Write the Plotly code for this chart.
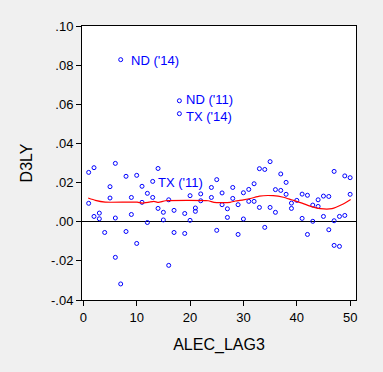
import plotly.graph_objects as go

# Scatter data (ALEC_LAG3, D3LY)
alec_lag3 = [1, 1, 2, 2, 3, 3, 4, 5, 5, 6, 6, 6, 7, 7, 8, 8, 9, 9, 10, 10,
             11, 11, 12, 12, 13, 13, 14, 14, 15, 15, 16, 16, 17, 17, 18, 18,
             19, 19, 20, 20, 21, 21, 22, 22, 24, 24, 25, 25, 26, 26, 27, 27,
             28, 28, 29, 29, 30, 30, 31, 31, 32, 32, 33, 33, 34, 34, 35, 35,
             36, 36, 37, 37, 38, 38, 39, 39, 40, 41, 41, 42, 42, 43, 43, 44, 44,
             45, 45, 46, 46, 47, 47, 47, 48, 48, 49, 49, 50, 50]
d3ly = [0.0252, 0.0094, 0.0276, 0.0027, 0.0044, 0.0015, -0.0055, 0.0179, 0.0121,
        0.0298, 0.0019, -0.0182, 0.0828, -0.0318, 0.0232, -0.0050, 0.0124, 0.0037,
        0.0237, -0.0111, 0.0181, 0.0099, 0.0145, -0.0004, 0.0206, 0.0124, 0.0272,
        0.0068, 0.0048, 0.0009, 0.0112, -0.0223, 0.0058, -0.0055, 0.0618, 0.0552,
        0.0042, -0.0060, 0.0133, 0.0007, 0.0070, 0.0053, 0.0142, 0.0107, 0.0175,
        0.0124, 0.0215, -0.0044, 0.0147, 0.0087, 0.0066, 0.0022, 0.0175, 0.0119,
        0.0087, -0.0065, 0.0148, 0.0014, 0.0165, 0.0104, 0.0194, 0.0104, 0.0271,
        0.0073, 0.0267, -0.0029, 0.0307, 0.0073, 0.0164, 0.0048, 0.0244, 0.0160,
        0.0201, 0.0140, 0.0095, 0.0068, 0.0109, 0.0141, 0.0017, 0.0135, -0.0065,
        0.0085, 0.0002, 0.0112, 0.0078, 0.0131, 0.0027, 0.0129, -0.0041, 0.0257,
        0.0005, -0.0121, 0.0027, -0.0126, 0.0234, 0.0032, 0.0225, 0.0140]

# Smooth fit line
fit_x = [0.9, 2.25, 4.1, 10.1, 11.0, 12.3, 13.2, 14.1, 15.4, 23.4, 24.5, 27.5,
         28.5, 30, 31.5, 33, 35.6, 37.5, 39, 41, 42.5, 44.4, 46.6, 48.5, 50.1]
fit_y = [0.0121, 0.0109, 0.0100, 0.0100, 0.0095, 0.0100, 0.0104, 0.0099, 0.0107,
         0.0107, 0.0099, 0.0099, 0.0106, 0.0112, 0.0120, 0.0131, 0.0133, 0.0125,
         0.0112, 0.0095, 0.0080, 0.0067, 0.0067, 0.0088, 0.0114]

# Point labels
label_text = ["ND ('14)", "ND ('11)", "TX ('14)", "TX ('11)"]
label_x = [7, 18, 18, 13]
label_y = [0.0828, 0.0618, 0.0552, 0.0206]
label_xshift = [8, 5, 5, 3]
label_yshift = [-1, 1, -3, -1]

y_tickvals = [0.10, 0.08, 0.06, 0.04, 0.02, 0.00, -0.02, -0.04]
y_ticktext = [".10", ".08", ".06", ".04", ".02", ".00", "-.02", "-.04"]
x_tickvals = [0, 10, 20, 30, 40, 50]

fig = go.Figure()
fig.add_trace(go.Scatter(
    x=alec_lag3, y=d3ly, mode="markers",
    marker=dict(symbol="circle-open", size=4, color="#0000FF", line=dict(width=1)),
    showlegend=False, hoverinfo="skip"))
fig.add_trace(go.Scatter(
    x=fit_x, y=fit_y, mode="lines",
    line=dict(color="#FF0000", width=1.2, shape="spline", smoothing=0.5),
    showlegend=False, hoverinfo="skip"))

for t, x, y, xs, ys in zip(label_text, label_x, label_y, label_xshift, label_yshift):
    fig.add_annotation(x=x, y=y, text=t, showarrow=False, xanchor="left",
                       yanchor="middle", xshift=xs, yshift=ys,
                       font=dict(family="Liberation Sans, Arial", size=13, color="#0000FF"))

fig.update_layout(
    width=383, height=372,
    margin=dict(l=82, r=27, t=26, b=72, autoexpand=False),
    paper_bgcolor="#F0F0F0", plot_bgcolor="#FFFFFF",
    font=dict(family="Liberation Sans, Arial", size=13, color="#000000"),
    xaxis=dict(range=[-0.25, 51.1], tickvals=x_tickvals, showgrid=False, zeroline=False,
               showline=True, linecolor="#000000", linewidth=1, mirror=True,
               ticks="outside", ticklen=5, tickcolor="#000000", automargin=False,
               title=dict(text="ALEC_LAG3", standoff=15)),
    yaxis=dict(range=[-0.04, 0.10], tickvals=y_tickvals, ticktext=y_ticktext,
               showgrid=False, zeroline=True, zerolinecolor="#000000", zerolinewidth=1,
               showline=True, linecolor="#000000", linewidth=1, mirror=True,
               ticks="outside", ticklen=5, tickcolor="#000000", automargin=False,
               title=dict(text="D3LY", standoff=14)),
)

fig.write_html("out.html", config={"displayModeBar": False},
               post_script="document.body.style.margin='0';document.body.style.background='#F0F0F0';")
